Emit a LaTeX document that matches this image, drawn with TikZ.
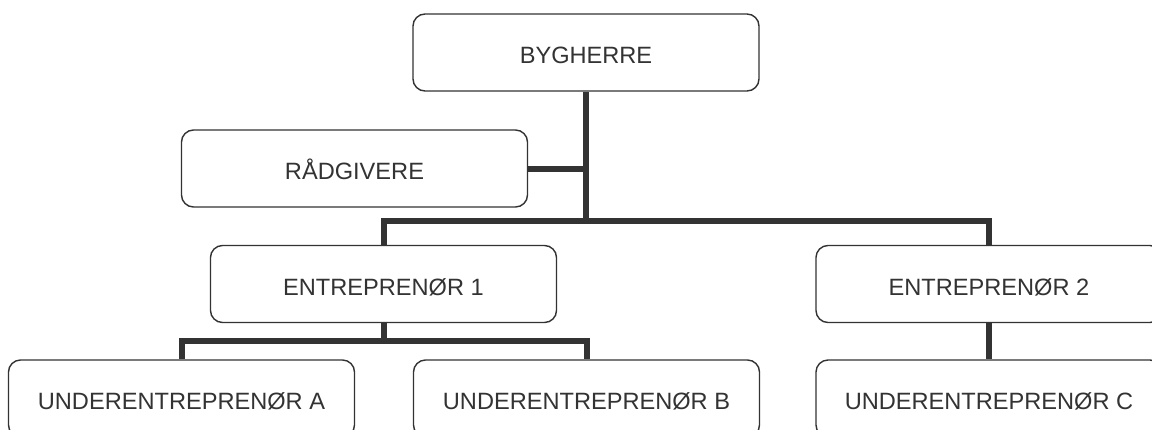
\documentclass[tikz,border=0pt]{standalone}
\usepackage{fontspec}
\setmainfont{Liberation Sans}
\definecolor{ink}{HTML}{333333}
\begin{document}
\begin{tikzpicture}[x=1pt,y=-1pt,
  orgbox/.style={draw=ink, line width=1.4pt, rounded corners=12pt, fill=white,
    minimum width=346pt, minimum height=77pt, inner sep=0pt,
    text=ink, font=\fontsize{23.6}{27}\selectfont, text height=22.5pt, text depth=0pt},
  link/.style={draw=ink, line width=6pt, line join=miter}]
\useasboundingbox (0,0) rectangle (1152,429);
\clip (0,0) rectangle (1152,429);

% organisation boxes
\node[orgbox] (byg) at (586,52.5) {BYGHERRE};
\node[orgbox] (rad) at (354.5,168.5) {RÅDGIVERE};
\node[orgbox] (e1)  at (383.5,284) {ENTREPRENØR 1};
\node[orgbox] (e2)  at (989,284) {ENTREPRENØR 2};
\node[orgbox] (ua)  at (181.5,398.5) {UNDERENTREPRENØR A};
\node[orgbox] (ub)  at (586.5,398.5) {UNDERENTREPRENØR B};
\node[orgbox] (uc)  at (989,398.5) {UNDERENTREPRENØR C};

% junction levels
\coordinate (bar) at (586,221);
\coordinate (subbar) at (383.5,341);

% connectors
\draw[link] (byg.south) -- (byg.south |- bar);
\draw[link] (rad.east) -- (rad.east -| byg.south);
\draw[link] (e1.north) |- (bar) -| (e2.north);
\draw[link] (e1.south) -- (subbar);
\draw[link] (ua.north) |- (subbar) -| (ub.north);
\draw[link] (e2.south) -- (uc.north);
\end{tikzpicture}
\end{document}
